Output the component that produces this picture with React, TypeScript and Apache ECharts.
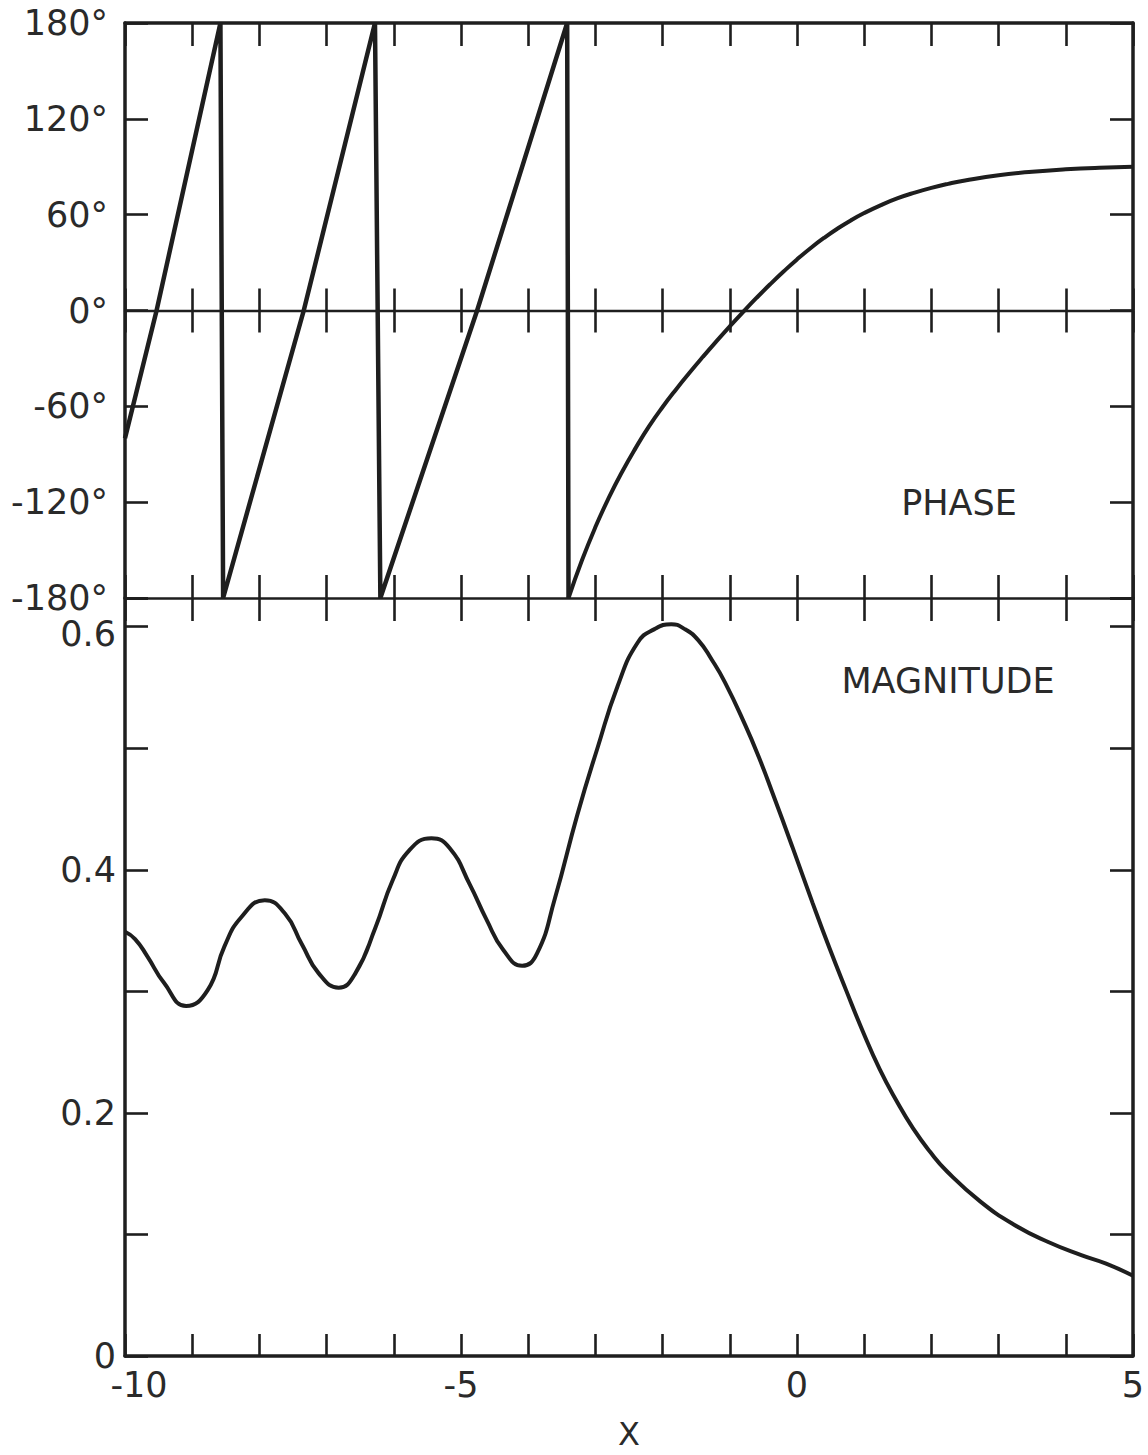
import React, { useEffect, useRef } from 'react';
import * as echarts from 'echarts';

// ---- data ----
const xMin = -10;
const xMax = 5;
const xLabelValues = [-10, -5, 0, 5];

const phaseMin = -180;
const phaseMax = 180;
const phaseStep = 60;

const magMin = 0;
const magMax = 0.6236;
const magStep = 0.1;
const magLabelValues = [0, 0.2, 0.4, 0.6];

// phase sawtooth (degrees), including the vertical wrap-around drops
const phaseSawX = [-10, -9.53, -8.58, -8.54, -7.34, -6.28, -6.2, -4.76, -3.42, -3.4];
const phaseSawDeg = [-80, 0, 180, -180, 0, 180, -180, 0, 180, -180];

// last branch of the phase curve, approaching 90°
const phaseTailX = [
  -3.4, -3.2, -3.0, -2.8, -2.6, -2.4, -2.2, -2.0, -1.8, -1.6, -1.4, -1.2, -1.0, -0.8,
  -0.6, -0.4, -0.2, 0, 0.2, 0.4, 0.6, 0.8, 1.0, 1.25, 1.5, 1.75, 2.0, 2.25, 2.5,
  3.0, 3.5, 4.0, 4.5, 5.0,
];
const phaseTailDeg = [
  -180, -156.4, -135.6, -117.2, -100.8, -86, -72.4, -60.4, -49.4, -39, -29, -19.3, -9.9, -0.8,
  8, 16.4, 24.4, 32, 39, 45.4, 51.2, 56.4, 61, 66, 70.3, 73.8, 76.8, 79.3, 81.4,
  84.7, 86.9, 88.4, 89.4, 90,
];

// magnitude
const magX = [
  -10, -9.85, -9.67, -9.42, -9.09, -8.77, -8.52, -8.27, -7.92, -7.62,
  -7.37, -7.12, -6.82, -6.57, -6.27, -6.02, -5.77, -5.44, -5.17, -4.87,
  -4.62, -4.37, -4.09, -3.87, -3.6, -3.27, -2.97, -2.67, -2.37, -2.12,
  -1.87, -1.67, -1.47, -1.27, -1.07, -0.77, -0.57, -0.37, -0.07, 0.23,
  0.48, 0.73, 0.98, 1.23, 1.48, 1.73, 1.98, 2.23, 2.73, 3.23,
  3.73, 4.23, 4.6, 5,
];
const magVal = [
  0.349, 0.343, 0.329, 0.307, 0.288, 0.301, 0.337, 0.361, 0.375, 0.364,
  0.339, 0.315, 0.303, 0.315, 0.353, 0.391, 0.416, 0.426, 0.418, 0.388,
  0.359, 0.334, 0.321, 0.331, 0.377, 0.445, 0.5, 0.551, 0.587, 0.598,
  0.602, 0.598, 0.589, 0.573, 0.554, 0.519, 0.493, 0.464, 0.419, 0.373,
  0.336, 0.301, 0.267, 0.236, 0.21, 0.187, 0.168, 0.152, 0.127, 0.108,
  0.094, 0.083, 0.076, 0.066,
];

const zip = (xs: number[], ys: number[]) => xs.map((x, i) => [x, ys[i]]);

const INK = '#1e1e1e';
const TEXT = '#2a2a2a';
const FONT = 'DejaVu Sans';

export default function App() {
  const ref = useRef<HTMLDivElement>(null);

  useEffect(() => {
    document.body.style.margin = '0';
    if (!ref.current) return;
    const chart = echarts.init(ref.current, undefined, { renderer: 'svg' });

    const gridLeft = 125;
    const gridWidth = 1008;

    const noLabel = { show: false };
    const noSplit = { show: false };
    const tick = (inside: boolean, length: number) => ({
      show: true,
      inside,
      length,
      lineStyle: { color: INK, width: 2.6 },
    });
    const xBase = {
      type: 'value' as const,
      min: xMin,
      max: xMax,
      interval: 1,
      splitLine: noSplit,
    };
    const labelFont = { fontFamily: FONT, fontSize: 35, lineHeight: 28, color: TEXT };

    const isMult = (v: number, step: number) => Math.abs(v / step - Math.round(v / step)) < 1e-6;

    const option: any = {
      animation: false,
      backgroundColor: '#ffffff',
      grid: [
        { left: gridLeft, top: 23, width: gridWidth, height: 575 },
        { left: gridLeft, top: 598, width: gridWidth, height: 765 },
      ],
      xAxis: [
        // 0: phase panel bottom line (-180°), ticks pointing up
        {
          ...xBase, gridIndex: 0, position: 'bottom',
          axisLine: { show: true, onZero: false, lineStyle: { color: INK, width: 2.6 } },
          axisTick: tick(true, 23), axisLabel: noLabel,
        },
        // 1: phase panel top frame (180°), ticks pointing down
        {
          ...xBase, gridIndex: 0, position: 'top',
          axisLine: { show: true, onZero: false, lineStyle: { color: INK, width: 3.5 } },
          axisTick: tick(true, 23), axisLabel: noLabel,
        },
        // 2: 0° line, ticks up
        {
          ...xBase, gridIndex: 0, position: 'bottom',
          axisLine: { show: true, onZero: true, onZeroAxisIndex: 0, lineStyle: { color: INK, width: 2.4 } },
          axisTick: tick(true, 22), axisLabel: noLabel,
        },
        // 3: 0° line, ticks down
        {
          ...xBase, gridIndex: 0, position: 'bottom',
          axisLine: { show: false, onZero: true, onZeroAxisIndex: 1, lineStyle: { color: INK, width: 2.4 } },
          axisTick: tick(false, 22), axisLabel: noLabel,
        },
        // 4: magnitude panel top (shared -180° line), ticks down
        {
          ...xBase, gridIndex: 1, position: 'top',
          axisLine: { show: false, onZero: false, lineStyle: { color: INK, width: 2.6 } },
          axisTick: tick(true, 23), axisLabel: noLabel,
        },
        // 5: magnitude panel bottom, labelled x axis
        {
          ...xBase, gridIndex: 1, position: 'bottom',
          name: 'X',
          nameLocation: 'middle',
          nameGap: 62,
          nameTextStyle: { fontFamily: FONT, fontSize: 32, color: TEXT },
          axisLine: { show: true, onZero: false, lineStyle: { color: INK, width: 3.5 } },
          axisTick: tick(true, 22),
          axisLabel: {
            show: true,
            margin: 15,
            ...labelFont,
            rich: {
              shift: { ...labelFont, padding: [0, 0, 0, 28] },
            },
            formatter: (v: number) => {
              if (!xLabelValues.some((l) => Math.abs(l - v) < 1e-6)) return '';
              return v === xMin ? `{shift|${v}}` : String(v);
            },
          },
        },
      ],
      yAxis: [
        // 0: phase left
        {
          type: 'value', gridIndex: 0, position: 'left',
          min: phaseMin, max: phaseMax, interval: phaseStep,
          splitLine: noSplit,
          axisLine: { show: true, onZero: false, lineStyle: { color: INK, width: 3.5 } },
          axisTick: tick(true, 23),
          axisLabel: {
            show: true, margin: 17, ...labelFont,
            formatter: (v: number) => (isMult(v, phaseStep) ? `${v}°` : ''),
          },
        },
        // 1: phase right
        {
          type: 'value', gridIndex: 0, position: 'right',
          min: phaseMin, max: phaseMax, interval: phaseStep,
          splitLine: noSplit,
          axisLine: { show: true, onZero: false, lineStyle: { color: INK, width: 3.5 } },
          axisTick: tick(true, 23),
          axisLabel: noLabel,
        },
        // 2: magnitude left
        {
          type: 'value', gridIndex: 1, position: 'left',
          min: magMin, max: magMax, interval: magStep,
          splitLine: noSplit,
          axisLine: { show: true, onZero: false, lineStyle: { color: INK, width: 3.5 } },
          axisTick: tick(true, 23),
          axisLabel: {
            show: true, margin: 9, ...labelFont,
            rich: {
              low: { ...labelFont, padding: [14, 0, 0, 0] },
            },
            formatter: (v: number) => {
              if (!magLabelValues.some((l) => Math.abs(l - v) < 1e-6)) return '';
              const s = v === 0 ? '0' : v.toFixed(1);
              return Math.abs(v - 0.6) < 1e-6 ? `{low|${s}}` : s;
            },
          },
        },
        // 3: magnitude right
        {
          type: 'value', gridIndex: 1, position: 'right',
          min: magMin, max: magMax, interval: magStep,
          splitLine: noSplit,
          axisLine: { show: true, onZero: false, lineStyle: { color: INK, width: 3.5 } },
          axisTick: tick(true, 23),
          axisLabel: noLabel,
        },
      ],
      series: [
        {
          name: 'Phase',
          type: 'line',
          xAxisIndex: 0,
          yAxisIndex: 0,
          data: zip(phaseSawX, phaseSawDeg),
          showSymbol: false,
          clip: false,
          lineStyle: { color: INK, width: 4.5, join: 'miter' },
        },
        {
          name: 'Phase tail',
          type: 'line',
          xAxisIndex: 0,
          yAxisIndex: 0,
          data: zip(phaseTailX, phaseTailDeg),
          showSymbol: false,
          smooth: 0.5,
          clip: false,
          lineStyle: { color: INK, width: 4 },
        },
        {
          name: 'Magnitude',
          type: 'line',
          xAxisIndex: 5,
          yAxisIndex: 2,
          data: zip(magX, magVal),
          showSymbol: false,
          smooth: 0.5,
          clip: false,
          lineStyle: { color: INK, width: 4 },
        },
      ],
      graphic: [
        {
          type: 'text',
          x: 959,
          y: 503,
          style: {
            text: 'PHASE', fontFamily: FONT, fontSize: 35, fill: TEXT,
            align: 'center', verticalAlign: 'middle',
          },
        },
        {
          type: 'text',
          x: 948,
          y: 681,
          style: {
            text: 'MAGNITUDE', fontFamily: FONT, fontSize: 35, fill: TEXT,
            align: 'center', verticalAlign: 'middle',
          },
        },
      ],
    };

    chart.setOption(option);
    return () => chart.dispose();
  }, []);

  return <div ref={ref} style={{ width: 1148, height: 1455 }} />;
}
